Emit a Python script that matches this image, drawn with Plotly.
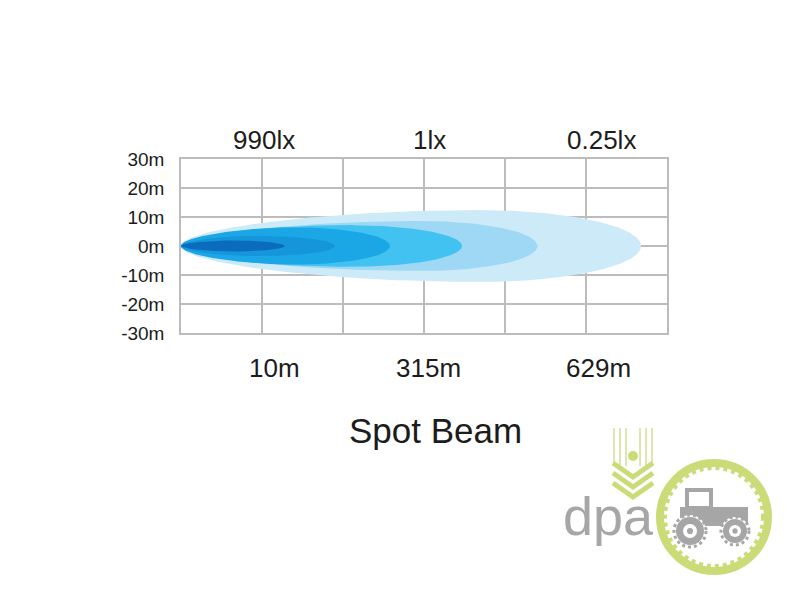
import numpy as np
import plotly.graph_objects as go

# grid / axis data
grid_cols = [0, 1, 2, 3, 4, 5, 6]
y_ticks = [30, 20, 10, 0, -10, -20, -30]
y_tick_text = ["30m", "20m", "10m", "0m", "-10m", "-20m", "-30m"]

lux_text = ["990lx", "1lx", "0.25lx"]
lux_pos = [1.02, 3.07, 5.19]
dist_text = ["10m", "315m", "629m"]
dist_pos = [1.15, 3.06, 5.15]

# beam isolux layers, outermost first (reach in grid columns, half width in m)
beam_reach = [5.68, 4.40, 3.47, 2.58, 1.90, 1.28]
beam_half = [12.4, 8.6, 7.2, 6.4, 3.5, 1.9]
beam_peak = [0.65, 0.68, 0.60, 0.55, 0.50, 0.50]
beam_colors = ["#cdeaf8", "#9fd8f4", "#42c2f0", "#1ba7e6", "#1595da", "#0b6cbd"]

TEXT = "#1c1c1c"
GRID = "#bcbcbc"
FONT = "Liberation Sans, Arial, sans-serif"


def beam_outline(reach, half, peak, n=260):
    u = (1 - np.cos(np.linspace(0, np.pi, n))) / 2
    left = np.sqrt(np.sin(np.pi / 2 * np.clip(u / peak, 0, 1)))
    right = np.sqrt(np.clip(1 - ((u - peak) / (1 - peak)) ** 2, 0, None))
    h = np.where(u < peak, left, right) * half
    x = u * reach
    return np.concatenate([x, x[::-1]]), np.concatenate([h, -h[::-1]])


fig = go.Figure()
for reach, half, peak, color in zip(beam_reach, beam_half, beam_peak, beam_colors):
    bx, by = beam_outline(reach, half, peak)
    fig.add_trace(go.Scatter(x=bx, y=by, mode="lines", fill="toself", fillcolor=color,
                             line={"width": 0, "color": color}, hoverinfo="skip", showlegend=False))

# plot area on the page in pixels: x 181..667, y 159..333 (page body adds 8px)
def px(x):
    return (x - 181) / 486


def py(y):
    return (333 - y) / 174


ann = []
for t, x in zip(lux_text, lux_pos):
    ann.append(dict(x=x, y=py(140), xref="x", yref="paper", text=t, showarrow=False,
                    font={"size": 26, "color": TEXT, "family": FONT}, xanchor="center", yanchor="middle"))
for t, x in zip(dist_text, dist_pos):
    ann.append(dict(x=x, y=py(368), xref="x", yref="paper", text=t, showarrow=False,
                    font={"size": 26, "color": TEXT, "family": FONT}, xanchor="center", yanchor="middle"))
ann.append(dict(x=px(435), y=py(430), xref="paper", yref="paper", text="Spot Beam", showarrow=False,
                font={"size": 35, "color": TEXT, "family": FONT}, xanchor="center", yanchor="middle"))

# dpa watermark (rough)
LIME = "#cbdb78"
GREY = "#a6a6a6"
shapes = []


def circ(cx, cy, r, **kw):
    shapes.append(dict(type="circle", xref="paper", yref="paper",
                       x0=px(cx - r), x1=px(cx + r), y0=py(cy + r), y1=py(cy - r), **kw))


circ(714, 517, 54, line={"color": LIME, "width": 8})
circ(714, 517, 49, line={"color": LIME, "width": 4, "dash": "dot"})
# wheat
for lx in [614, 620, 626, 640, 646, 652]:
    shapes.append(dict(type="line", xref="paper", yref="paper", x0=px(lx), x1=px(lx),
                       y0=py(428), y1=py(466), line={"color": "#dfe7b0", "width": 2}))
for i in range(3):
    y0 = 463 + i * 10
    path = f"M {px(613)},{py(y0)} L {px(633)},{py(y0 + 14)} L {px(653)},{py(y0)}"
    shapes.append(dict(type="path", xref="paper", yref="paper", path=path,
                       line={"color": LIME, "width": 5}))
circ(633, 456, 5, fillcolor=LIME, line={"width": 0})
# tractor
shapes.append(dict(type="rect", xref="paper", yref="paper", x0=px(680), x1=px(748), y0=py(526), y1=py(507),
                   fillcolor=GREY, line={"width": 0}))
shapes.append(dict(type="rect", xref="paper", yref="paper", x0=px(687), x1=px(711), y0=py(508), y1=py(490),
                   fillcolor="white", line={"color": GREY, "width": 4}))
for cx, r in [(690, 14), (735, 12)]:
    circ(cx, 531, r + 2, fillcolor="white", line={"color": GREY, "width": 3, "dash": "dot"})
    circ(cx, 531, r, fillcolor=GREY, line={"width": 0})
    circ(cx, 531, r * 0.5, fillcolor="white", line={"width": 0})
    circ(cx, 531, r * 0.22, fillcolor=GREY, line={"width": 0})

ann.append(dict(x=px(608), y=py(516), xref="paper", yref="paper", text="dpa", showarrow=False,
                font={"size": 54, "color": GREY, "family": "Liberation Sans Narrow, Arial Narrow, Liberation Sans, sans-serif"},
                xanchor="center", yanchor="middle"))

fig.update_layout(
    width=800, height=600,
    margin={"l": 173, "r": 141, "t": 151, "b": 275},
    paper_bgcolor="white", plot_bgcolor="white",
    font={"family": FONT, "color": TEXT},
    xaxis={"range": [0, 6], "tickvals": grid_cols, "showticklabels": False, "showgrid": True,
           "gridcolor": GRID, "gridwidth": 1.5, "zeroline": False, "showline": True, "mirror": True,
           "linecolor": GRID, "linewidth": 1.5, "layer": "below traces", "fixedrange": True},
    yaxis={"range": [-30, 30], "tickvals": y_ticks, "ticktext": y_tick_text, "showgrid": True,
           "gridcolor": GRID, "gridwidth": 1.5, "zeroline": False, "showline": True, "mirror": True,
           "linecolor": GRID, "linewidth": 1.5, "layer": "below traces", "ticklabelstandoff": 11,
           "tickfont": {"size": 19, "color": TEXT}, "fixedrange": True},
    annotations=ann,
    shapes=shapes,
)

fig.write_html("out.html")
